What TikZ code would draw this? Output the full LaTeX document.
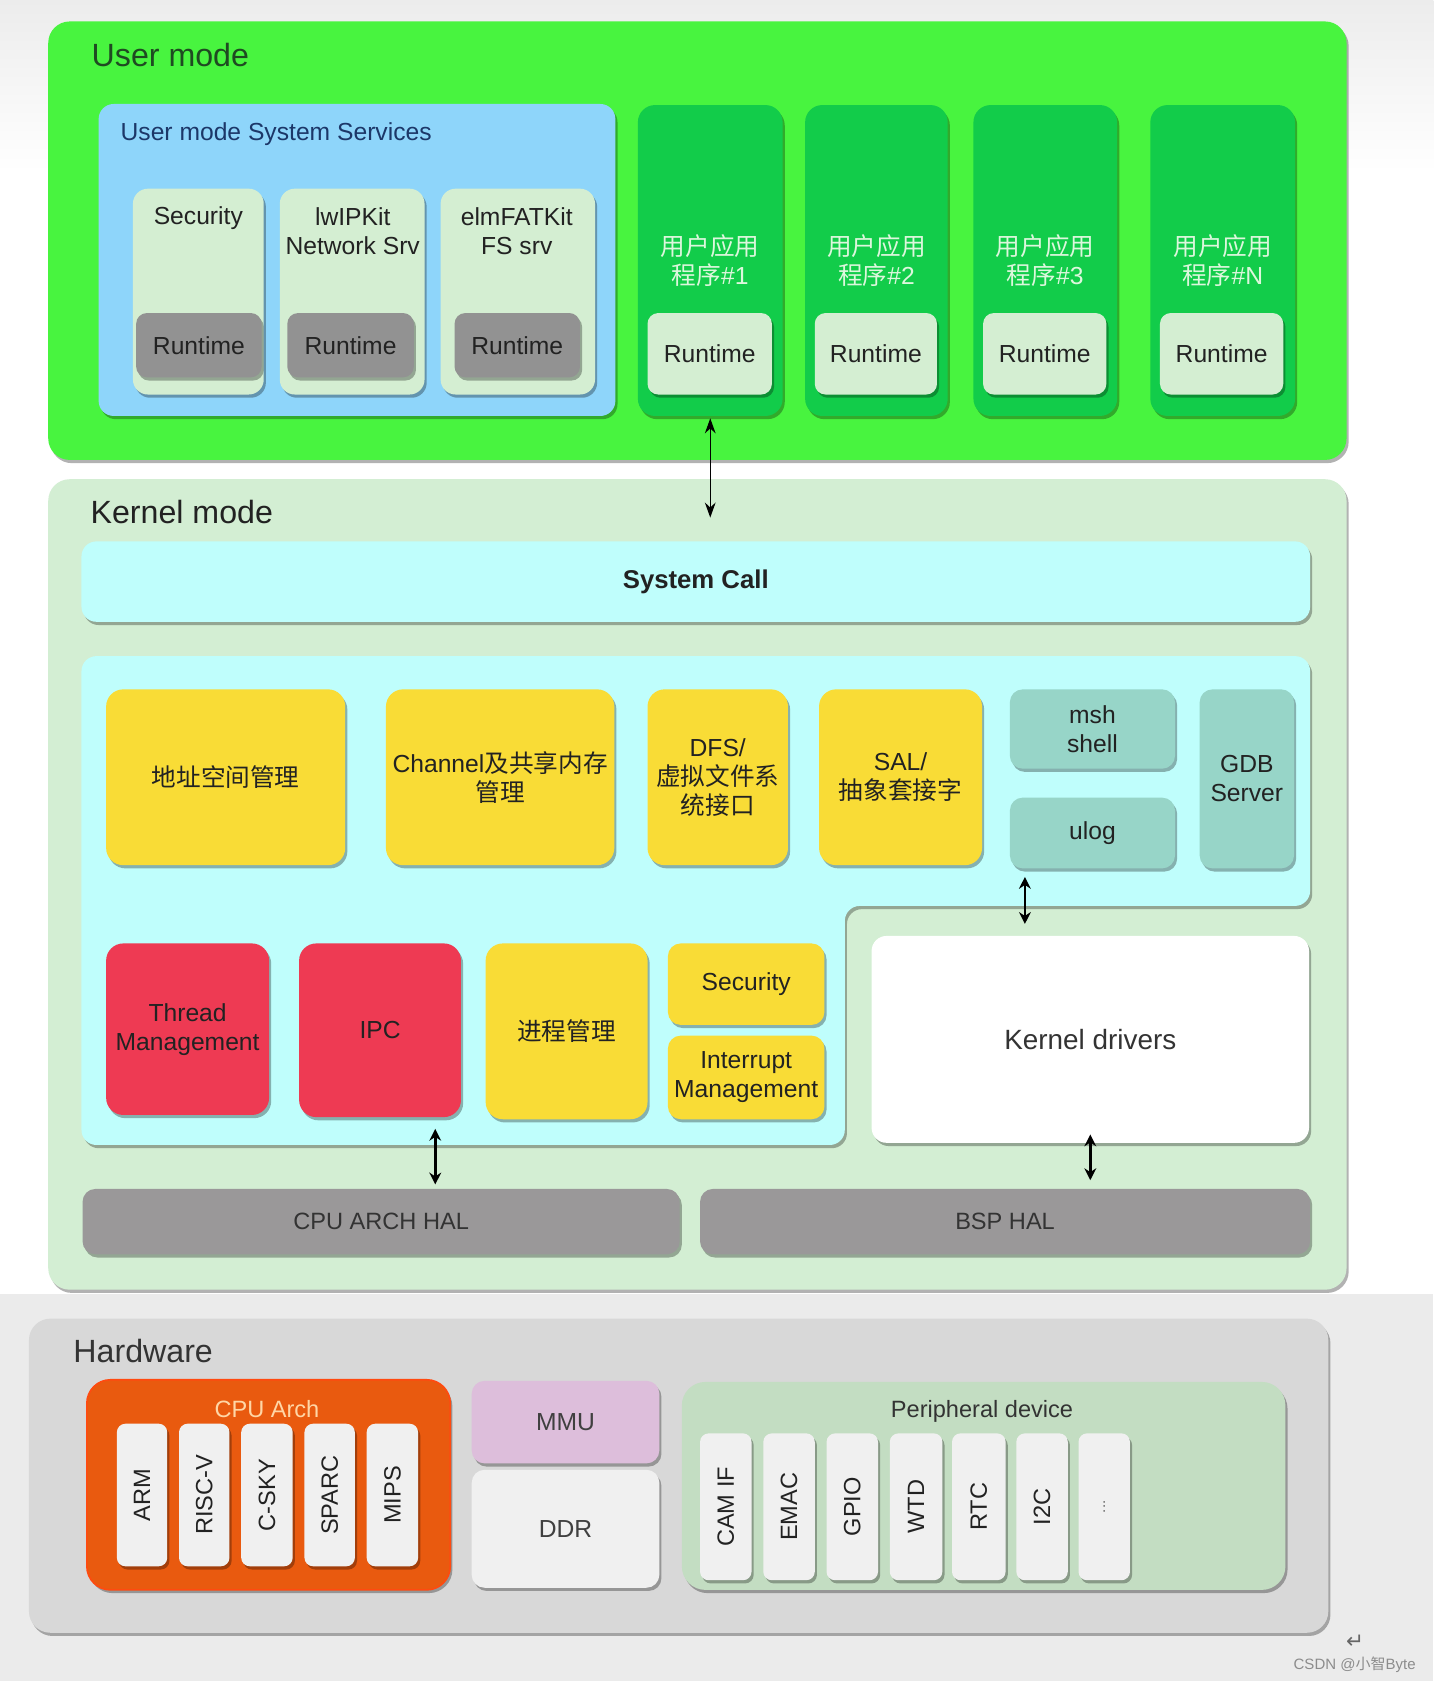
\documentclass[tikz,border=0pt]{standalone}
\usepackage{fontspec}
\usepackage{graphicx}
\setmainfont{Liberation Sans}
\newfontfamily\cjk{Noto Sans CJK SC}
\newfontfamily\djv{DejaVu Sans}
\usetikzlibrary{shadows,arrows.meta}
\definecolor{bgtop}{HTML}{ECECEC}
\definecolor{bgbot}{HTML}{EBEBEB}
\definecolor{usergreen}{HTML}{48F43F}
\definecolor{appgreen}{HTML}{12CC4A}
\definecolor{svcblue}{HTML}{8ED5FA}
\definecolor{palegreen}{HTML}{D4EED2}
\definecolor{rtgray}{HTML}{929292}
\definecolor{kgreen}{HTML}{D3EED3}
\definecolor{kcyan}{HTML}{BFFEFC}
\definecolor{kyellow}{HTML}{F9DC36}
\definecolor{kteal}{HTML}{97D5C8}
\definecolor{kred}{HTML}{EE3A53}
\definecolor{halgray}{HTML}{9A9899}
\definecolor{hwgray}{HTML}{D8D8D8}
\definecolor{cpuorange}{HTML}{E95A0F}
\definecolor{cpuedge}{HTML}{FF4A10}
\definecolor{cputitle}{HTML}{FFD6A6}
\definecolor{mmupink}{HTML}{DDBEDB}
\definecolor{chipwhite}{HTML}{F0F0F0}
\definecolor{perigreen}{HTML}{C3DDC2}
\definecolor{usertxt}{HTML}{1F4A22}
\definecolor{navytxt}{HTML}{1C3768}
\definecolor{apptxt}{HTML}{DDF7DD}
\definecolor{darktxt}{HTML}{222222}
\begin{document}
\begin{tikzpicture}[x=1pt,y=-1pt,
  font=\fontsize{23}{27}\selectfont, text=darktxt,
  shad/.style={drop shadow={shadow xshift=2pt,shadow yshift=-3pt,opacity=0.3,fill=black}},
  blk/.style={shad, inner sep=0pt, align=center, rounded corners=#1},
  blk/.default=10pt,
  cr/.style n args={4}{at={({(#1+#3)/2},{(#2+#4)/2})}, minimum width={(#3-#1)*1pt}, minimum height={(#4-#2)*1pt}},
  lbl/.style={font=\fontsize{30}{30}\selectfont, anchor=base west},
  rot/.style={blk=8pt, fill=chipwhite, font=\fontsize{22}{22}\selectfont},
  thinarr/.style={{Stealth[length=14pt,width=10pt]}-{Stealth[length=14pt,width=10pt]}, line width=1.3pt},
  thickarr/.style={{Stealth[length=11pt,width=11pt]}-{Stealth[length=11pt,width=11pt]}, line width=2.4pt}
]
\useasboundingbox (0,0) rectangle (1337,1568);
% background
\fill[white] (0,0) rectangle (1337,1207);
\shade[top color=bgtop, bottom color=white] (0,0) rectangle (1337,160);
\fill[bgbot] (0,1207) rectangle (1337,1568);

% ---------------- User mode ----------------
\node[blk=20pt, fill=usergreen, cr={45}{20}{1256}{429}] (user) {};
\node[lbl, text=usertxt] (userlbl) at (82,62) {User mode};

\node[blk=14pt, fill=svcblue, cr={92}{97}{574}{388}] (uss) {};
\node[anchor=base west, text=navytxt] (usslbl) at (109,131) {User mode System Services};

\node[blk=14pt, fill=palegreen, cr={124}{176}{246}{368}] (svc1) {};
\node[blk=14pt, fill=palegreen, cr={261}{176}{396}{368}] (svc2) {};
\node[blk=14pt, fill=palegreen, cr={411}{176}{555}{368}] (svc3) {};
\node (svc1t) at (185,203) {Security};
\node[align=center] (svc2t) at (329,216) {lwIPKit\\Network Srv};
\node[align=center] (svc3t) at (482,216) {elmFATKit\\FS srv};
\node[blk, fill=rtgray, cr={127}{292}{244}{352}] (rt1) {Runtime};
\node[blk, fill=rtgray, cr={268}{292}{386}{352}] (rt2) {Runtime};
\node[blk, fill=rtgray, cr={424}{292}{541}{352}] (rt3) {Runtime};

\node[blk=16pt, fill=appgreen, cr={595}{98}{730}{388}] (app1) {};
\node[blk=16pt, fill=appgreen, cr={751}{98}{884}{388}] (app2) {};
\node[blk=16pt, fill=appgreen, cr={908}{98}{1042}{388}] (app3) {};
\node[blk=16pt, fill=appgreen, cr={1073}{98}{1208}{388}] (appn) {};
\node[align=center, text=apptxt] (app1t) at (app1.center |- 0,243) {{\cjk 用户应用}\\{\cjk 程序}\#1};
\node[align=center, text=apptxt] (app2t) at (app2.center |- 0,243) {{\cjk 用户应用}\\{\cjk 程序}\#2};
\node[align=center, text=apptxt] (app3t) at (app3.center |- 0,243) {{\cjk 用户应用}\\{\cjk 程序}\#3};
\node[align=center, text=apptxt] (appnt) at (appn.center |- 0,243) {{\cjk 用户应用}\\{\cjk 程序}\#N};
\node[blk, fill=palegreen, cr={604}{292}{720}{368}] (art1) {Runtime};
\node[blk, fill=palegreen, cr={760}{292}{874}{368}] (art2) {Runtime};
\node[blk, fill=palegreen, cr={917}{292}{1032}{368}] (art3) {Runtime};
\node[blk, fill=palegreen, cr={1082}{292}{1197}{368}] (artn) {Runtime};

% ---------------- Kernel mode ----------------
\node[blk=20pt, fill=kgreen, cr={45}{447}{1256}{1203}] (kernel) {};
\node[lbl] (kernlbl) at (81,488) {Kernel mode};

\node[blk=14pt, fill=kcyan, cr={76}{505}{1222}{580}, font=\bfseries\fontsize{24}{24}\selectfont] (syscall) {System Call};

\fill[kcyan, rounded corners=14pt, shad] (76,612) -- (1222,612) -- (1222,845) -- (788,845) -- (788,1068) -- (76,1068) -- cycle;

\node[blk=16pt, fill=kyellow, cr={99}{643}{322}{807}] (addr) {{\cjk 地址空间管理}};
\node[blk=16pt, fill=kyellow, cr={360}{643}{573}{807}] (chan) {Channel{\cjk 及共享内存}\\{\cjk 管理}};
\node[blk=16pt, fill=kyellow, cr={604}{643}{735}{807}] (dfs) {DFS/\\{\cjk 虚拟文件系}\\{\cjk 统接口}};
\node[blk=16pt, fill=kyellow, cr={764}{643}{916}{807}] (sal) {SAL/\\{\cjk 抽象套接字}};
\node[blk=12pt, fill=kteal, cr={942}{643}{1096}{717}] (msh) {msh\\shell};
\node[blk=12pt, fill=kteal, cr={942}{744}{1096}{810}] (ulog) {ulog};
\node[blk=12pt, fill=kteal, cr={1119}{643}{1207}{810}] (gdb) {GDB\\Server};

\node[blk=16pt, fill=kred, cr={99}{880}{251}{1040}] (thread) {Thread\\Management};
\node[blk=16pt, fill=kred, cr={279}{880}{430}{1042}] (ipc) {IPC};
\node[blk=16pt, fill=kyellow, cr={453}{880}{604}{1044}] (proc) {{\cjk 进程管理}};
\node[blk=12pt, fill=kyellow, cr={623}{880}{769}{956}] (ksec) {Security};
\node[blk=12pt, fill=kyellow, cr={623}{966}{769}{1044}] (irq) {Interrupt\\Management};

\node[blk=14pt, fill=white, cr={813}{873}{1221}{1066}, font=\fontsize{26}{30}\selectfont, text=black!80] (kd) {Kernel drivers};

\node[blk=12pt, fill=halgray, cr={77}{1109}{634}{1170}, font=\fontsize{22}{22}\selectfont, text=black!80] (cpuhal) {CPU ARCH HAL};
\node[blk=12pt, fill=halgray, cr={653}{1109}{1222}{1170}, font=\fontsize{22}{22}\selectfont, text=black!80] (bsphal) {BSP HAL};

% connectors
\coordinate (ua) at (956,818);
\coordinate (cyb) at (406,1053);
\draw[thinarr, shorten <=2pt, shorten >=22pt] (app1.south) -- (app1.south |- syscall.north);
\draw[thickarr, shorten >=11pt] (ua) -- (kd.north -| ua);
\draw[thickarr, shorten >=4pt] (cyb) -- (cpuhal.north -| cyb);
\draw[thickarr, shorten <=-8pt, shorten >=8pt] (kd.south) -- (bsphal.north -| kd.south);

% ---------------- Hardware ----------------
\node[blk=20pt, fill=hwgray, cr={27}{1230}{1239}{1523}] (hw) {};
\node[lbl, text=black!80] (hwlbl) at (65,1271) {Hardware};

\node[blk=22pt, fill=cpuorange, draw=cpuedge, line width=1.5pt, cr={81}{1287}{420}{1483}] (cpu) {};
\node[anchor=base, text=cputitle, font=\fontsize{22}{22}\selectfont] (cputl) at (249,1322) {CPU Arch};
\node[rot, cr={109}{1328}{156}{1461}] (arm) {\rotatebox{90}{ARM}};
\node[rot, cr={167}{1328}{214}{1461}] (riscv) {\rotatebox{90}{RISC-V}};
\node[rot, cr={225}{1328}{273}{1461}] (csky) {\rotatebox{90}{C-SKY}};
\node[rot, cr={284}{1328}{331}{1461}] (sparc) {\rotatebox{90}{SPARC}};
\node[rot, cr={342}{1328}{390}{1461}] (mips) {\rotatebox{90}{MIPS}};

\node[blk=12pt, fill=mmupink, cr={440}{1288}{615}{1365}, text=black!75] (mmu) {MMU};
\node[blk=12pt, fill=chipwhite, cr={440}{1371}{615}{1481}, text=black!75] (ddr) {DDR};

\node[blk=22pt, fill=perigreen, cr={636}{1289}{1199}{1483}] (peri) {};
\node[anchor=base, font=\fontsize{22}{22}\selectfont, text=black!80] (perilbl) at (916,1322) {Peripheral device};
\node[rot, cr={653}{1337}{701}{1474}] (cam) {\rotatebox{90}{CAM IF}};
\node[rot, cr={712}{1337}{760}{1474}] (emac) {\rotatebox{90}{EMAC}};
\node[rot, cr={771}{1337}{819}{1474}] (gpio) {\rotatebox{90}{GPIO}};
\node[rot, cr={830}{1337}{879}{1474}] (wtd) {\rotatebox{90}{WTD}};
\node[rot, cr={888}{1337}{938}{1474}] (rtc) {\rotatebox{90}{RTC}};
\node[rot, cr={948}{1337}{996}{1474}] (i2c) {\rotatebox{90}{I2C}};
\node[rot, cr={1006}{1337}{1054}{1474}, font=\fontsize{14}{14}\selectfont, text=black!60] (more) {\rotatebox{90}{...}};

% watermark
\node[font=\djv\fontsize{20}{20}\selectfont, text=black!60] (ret) at (1264,1531) {↵};
\node[anchor=base east, font=\fontsize{14}{14}\selectfont, text=black!45] (wm) at (1324,1557) {CSDN @{\cjk 小智}Byte};
\end{tikzpicture}
\end{document}
